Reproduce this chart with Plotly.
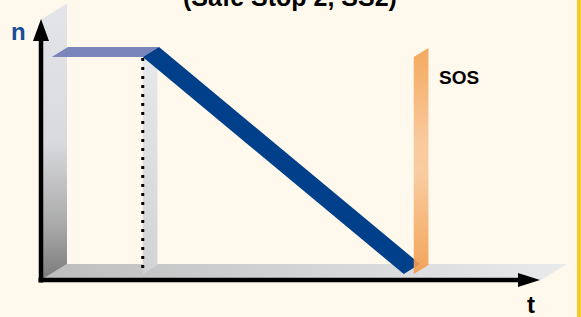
import plotly.graph_objects as go

# ---------------- data (conceptual SS2 speed profile) ----------------
profile_t = [0.01, 0.92, 3.53]   # time: start, stop request, standstill
profile_n = [1.0, 1.0, 0.0]      # speed n (normalised)
sos_t = 3.63                     # safe operating stop (SOS) monitoring start
sos_n = 1.0
wall_n = 1.2                     # height of back wall
floor_t = 5.0                    # length of floor
axis_t_end = 4.99                # arrow tip of t axis
axis_n_end = 1.203               # arrow tip of n axis
title_text = "(Safe Stop 2, SS2)"
label_n = "n"
label_t = "t"
label_sos = "SOS"

# ---------------- style / layout constants ----------------
W, H = 581, 317
X0, Y0 = 41, 280          # pixel position of origin
SX, SY = 100.0, 217.0     # pixels per unit
DT, DN = 26 / SX, 16 / SY # oblique depth vector (data units per unit depth)
Z1, Z2 = 0.375, 1.0       # ribbon depth range
ZS1, ZS2 = 0.375, 0.94    # SOS / stop panel depth range
BG = "#FFF8EC"
FONT = "Liberation Sans, Arial, sans-serif"


def P(t, n, z=0.0):
    return t + z * DT, n + z * DN


def poly(pts, **kw):
    xs = [p[0] for p in pts] + [pts[0][0]]
    ys = [p[1] for p in pts] + [pts[0][1]]
    return go.Scatter(x=xs, y=ys, mode="lines", fill="toself",
                      line=dict(width=0), hoverinfo="skip", **kw)


fig = go.Figure()

# floor
fig.add_trace(poly([P(0, 0, 0), P(floor_t, 0, 0), P(floor_t, 0, 1), P(0, 0, 1)],
                   fillgradient=dict(type="horizontal",
                                     colorscale=[[0, "#bdbdbd"], [0.5, "#d3d4d6"], [1, "#e9eaec"]])))
# back wall
fig.add_trace(poly([P(0, 0, 0), P(0, wall_n, 0), P(0, wall_n, 1), P(0, 0, 1)],
                   fillgradient=dict(type="vertical",
                                     colorscale=[[0, "#7a7a7a"], [0.2, "#aaaaaa"],
                                                 [0.5, "#d9dadd"], [1, "#e3e5e8"]])))
# panel at stop request
t1 = profile_t[1]
fig.add_trace(poly([P(t1, 0, ZS1), P(t1, profile_n[1], ZS1), P(t1, profile_n[1], ZS2), P(t1, 0, ZS2)],
                   fillgradient=dict(type="vertical",
                                     colorscale=[[0, "#d2d3d5"], [1, "#e8e9ec"]])))
# ribbon: flat part (top face)
fig.add_trace(poly([P(profile_t[0], profile_n[0], Z1), P(profile_t[1], profile_n[1], Z1),
                    P(profile_t[1], profile_n[1], Z2), P(profile_t[0], profile_n[0], Z2)],
                   fillcolor="#7a85bb"))
# ribbon: ramp
fig.add_trace(poly([P(profile_t[1], profile_n[1], Z1), P(profile_t[2], profile_n[2], Z1),
                    P(profile_t[2], profile_n[2], Z2), P(profile_t[1], profile_n[1], Z2)],
                   fillcolor="#003f8a"))
# dotted projection line
a, b = P(t1, profile_n[1], Z1), P(t1, 0, Z1)
fig.add_trace(go.Scatter(x=[a[0], b[0]], y=[a[1] - 0.005, b[1] + 0.015], mode="lines",
                         line=dict(color="black", width=3, dash="3px,6px"), hoverinfo="skip"))
# SOS panel
fig.add_trace(poly([P(sos_t, 0, ZS1), P(sos_t, sos_n, ZS1), P(sos_t, sos_n, ZS2), P(sos_t, 0, ZS2)],
                   opacity=0.9,
                   fillgradient=dict(type="vertical",
                                     colorscale=[[0, "#f29a48"], [0.45, "#f8c899"], [0.6, "#f8c493"],
                                                 [1, "#f3a04f"]])))

# axes lines
fig.add_trace(go.Scatter(x=[0, 0], y=[-0.012, axis_n_end - 21 / SY], mode="lines",
                         line=dict(color="black", width=4.5), hoverinfo="skip"))
fig.add_trace(go.Scatter(x=[-0.025, axis_t_end - 22 / SX], y=[0, 0], mode="lines",
                         line=dict(color="black", width=4.5), hoverinfo="skip"))
# arrowheads
fig.add_trace(poly([(0, axis_n_end), (-8 / SX, axis_n_end - 22 / SY), (8 / SX, axis_n_end - 22 / SY)],
                   fillcolor="black"))
fig.add_trace(poly([(axis_t_end, 0), (axis_t_end - 22 / SX, 7 / SY), (axis_t_end - 22 / SX, -7 / SY)],
                   fillcolor="black"))

# texts
fig.add_annotation(x=-0.225, y=(Y0 - 31.5) / SY, text="<b>%s</b>" % label_n, showarrow=False,
                   font=dict(family=FONT, size=24, color="#1b4e98"))
fig.add_annotation(x=(531 - X0) / SX, y=(Y0 - 304) / SY, text="<b>%s</b>" % label_t, showarrow=False,
                   font=dict(family=FONT, size=24, color="black"))
fig.add_annotation(x=(458.5 - X0) / SX, y=(Y0 - 77.5) / SY, text="<b>%s</b>" % label_sos, showarrow=False,
                   font=dict(family=FONT, size=19, color="black"))
fig.add_annotation(x=(289.5 - X0) / SX, xref="x", yref="paper", y=1 + 3 / H, yanchor="middle",
                   text="<b>%s</b>" % title_text, showarrow=False,
                   font=dict(family=FONT, size=25, color="black"))

# right yellow border
fig.add_shape(type="rect", xref="paper", yref="paper", x0=577 / W, x1=1, y0=0, y1=1,
              fillcolor="#f6cb2c", line=dict(width=0), layer="above")

fig.update_layout(
    width=W, height=H, autosize=False,
    margin=dict(l=0, r=0, t=0, b=0, pad=0),
    paper_bgcolor=BG, plot_bgcolor=BG,
    showlegend=False, hovermode=False,
    xaxis=dict(range=[-X0 / SX, (W - X0) / SX], visible=False, fixedrange=True),
    yaxis=dict(range=[-(H - Y0) / SY, Y0 / SY], visible=False, fixedrange=True),
)

fig.write_html("out.html", config={"displayModeBar": False},
               post_script="document.body.style.margin='0';document.body.style.background='%s';" % BG)
